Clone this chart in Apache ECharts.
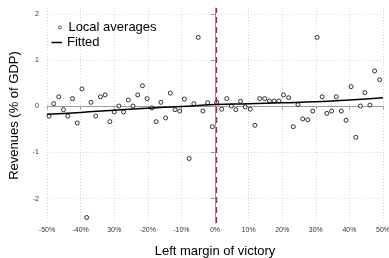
<!DOCTYPE html>
<html>
<head>
<meta charset="utf-8">
<script src="https://cdn.jsdelivr.net/npm/echarts@6/dist/echarts.min.js"></script>
<style>
  html, body { margin: 0; padding: 0; background: #fff; }
  #chart { width: 389px; height: 258px; }
</style>
</head>
<body>
<div id="chart"></div>
<script>
// local averages (bin midpoints, % margin) and values (% of GDP)
var localX = [-49.4, -48.0, -46.5, -45.1, -43.8, -42.4, -41.0, -39.6, -38.2, -36.9, -35.5, -34.1,
  -32.7, -31.3, -30.0, -28.6, -27.2, -25.8, -24.4, -23.0, -21.6, -20.2, -18.8, -17.5,
  -16.1, -14.7, -13.3, -11.9, -10.5, -9.1, -7.7, -6.3, -5.0, -3.6, -2.2, -0.8,
  0.5, 2.0, 3.5, 4.9, 6.2, 7.6, 9.0, 10.5, 11.9, 13.3, 14.8, 16.2,
  17.6, 19.0, 20.4, 21.9, 23.3, 24.7, 26.1, 27.6, 29.1, 30.4, 31.9, 33.3,
  34.7, 36.1, 37.6, 39.0, 40.5, 41.9, 43.3, 44.6, 46.1, 47.5, 49.0];
var localY = [-0.21, 0.06, 0.21, -0.07, -0.21, 0.17, -0.36, 0.38, -2.41, 0.09, -0.21, 0.21,
  0.25, -0.33, -0.12, 0.01, -0.12, 0.14, 0.01, 0.25, 0.45, 0.17, -0.03, -0.33,
  0.09, -0.25, 0.29, -0.07, -0.10, 0.16, -1.13, 0.06, 1.50, -0.10, 0.08, -0.44,
  0.09, -0.06, 0.17, 0.01, -0.07, 0.11, -0.01, -0.06, -0.41, 0.17, 0.17, 0.12,
  0.12, 0.12, 0.25, 0.19, -0.44, 0.04, -0.27, -0.29, -0.10, 1.50, 0.21, -0.15,
  -0.10, 0.21, -0.10, -0.30, 0.43, -0.67, 0.01, 0.30, 0.03, 0.77, 0.58];

// fitted curve
var fitX = [-50, -40, -30, -20, -10, 0, 10, 20, 30, 40, 50];
var fitY = [-0.17, -0.13, -0.08, -0.04, 0.00, 0.04, 0.06, 0.08, 0.10, 0.14, 0.19];

// ticks
var xTicks = [-50, -40, -30, -20, -10, 0, 10, 20, 30, 40, 50];
var xTickLabels = ['-50%', '-40%', '30%', '-20%', '-10%', '0%', '10%', '20%', '30%', '40%', '50%'];
var yTicks = [-2, -1, 0, 1, 2];
var cutoff = 0.3;

var myChart = echarts.init(document.getElementById('chart'));

var scatterData = localX.map(function (x, i) { return [x, localY[i]]; });
var fitData = fitX.map(function (x, i) { return [x, fitY[i]]; });

var option = {
    animation: false,
    textStyle: { fontFamily: 'Liberation Sans, Arial, sans-serif' },
    grid: {     //绘图区位置
        left: 47,
        right: 6,
        top: 8,
        bottom: 35,
        containLabel: false,
        outerBoundsMode: 'none'
    },
    legend: [
        {
            data: [{ name: 'Local averages', icon: 'circle' }],
            orient: 'vertical',
            left: 53,
            top: 16,
            itemWidth: 3,
            itemHeight: 3,
            itemStyle: { color: '#fff', borderColor: '#000', borderWidth: 0.8 },
            textStyle: { color: '#000', fontSize: 13, padding: [0, 0, 0, 2] }
        },
        {
            data: [{ name: 'Fitted', icon: 'rect' }],
            orient: 'vertical',
            left: 46.5,
            top: 31,
            itemWidth: 10.5,
            itemHeight: 1.5,
            textStyle: { color: '#000', fontSize: 13 }
        }
    ],
    xAxis: {
        type: 'value',
        min: -50,
        max: 50,
        interval: 10,
        name: 'Left margin of victory',
        nameLocation: 'middle',
        nameGap: 22,
        nameTextStyle: { color: '#000', fontSize: 13 },
        axisLine: { show: true, lineStyle: { color: '#9a9a9a', width: 1 } },
        axisTick: { show: true, length: 3, lineStyle: { color: '#9a9a9a' } },
        axisLabel: {
            color: '#333',
            fontSize: 7,
            margin: 4,
            formatter: function (v) {
                var i = xTicks.indexOf(v);
                return i >= 0 ? xTickLabels[i] : '';
            }
        },
        splitLine: { show: true, lineStyle: { color: '#d6d6d6', type: [1, 2] } }
    },
    yAxis: {
        type: 'value',
        min: -2.53,
        max: 2.137,
        offset: 6,
        name: 'Revenues (% of GDP)',
        nameLocation: 'middle',
        nameGap: 20,
        nameTextStyle: { color: '#000', fontSize: 13 },
        axisLine: { show: true, lineStyle: { color: '#9a9a9a', width: 1 } },
        axisTick: { show: true, length: 4, customValues: yTicks, lineStyle: { color: '#9a9a9a' } },
        axisLabel: { color: '#333', fontSize: 7, margin: 2, customValues: yTicks },
        splitLine: { show: true, lineStyle: { color: '#d6d6d6', type: [1, 2] } }
    },
    series: [
        {
            name: 'Local averages',
            type: 'scatter',
            data: scatterData,
            symbol: 'circle',
            symbolSize: 4,
            itemStyle: { color: '#fff', borderColor: '#000', borderWidth: 1 },
            z: 3,
            markLine: {
                silent: true,
                symbol: 'none',
                label: { show: false },
                lineStyle: { color: '#d0103a', width: 1.3, type: [6, 4], opacity: 1 },
                data: [{ xAxis: cutoff }]
            }
        },
        {
            name: 'Fitted',
            type: 'line',
            data: fitData,
            smooth: true,
            symbol: 'none',
            lineStyle: { color: '#000', width: 1.5 },
            itemStyle: { color: '#000' },
            z: 4
        }
    ]
};

myChart.setOption(option);
</script>
</body>
</html>
